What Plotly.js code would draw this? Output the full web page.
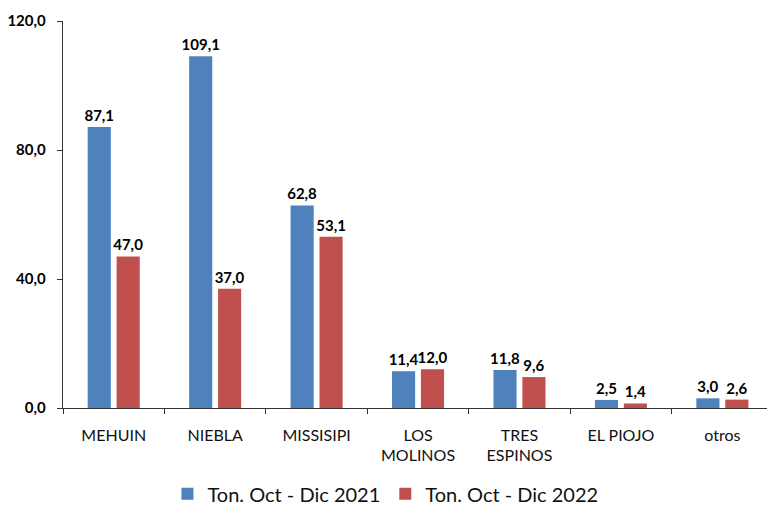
<!DOCTYPE html>
<html>
<head>
<meta charset="utf-8">
<script src="https://cdn.plot.ly/plotly-3.0.1.min.js"></script>
<style>html,body{margin:0;padding:0;background:#fff;}#chart{width:767px;height:506px;}</style>
</head>
<body>
<div id="chart"></div>
<script>
var categories = ["MEHUIN", "NIEBLA", "MISSISIPI", "LOS<br>MOLINOS", "TRES<br>ESPINOS", "EL PIOJO", "otros"];
var values2021 = [87.1, 109.1, 62.8, 11.4, 11.8, 2.5, 3.0];
var values2022 = [47.0, 37.0, 53.1, 12.0, 9.6, 1.4, 2.6];
var seriesNames = ["Ton. Oct - Dic 2021", "Ton. Oct - Dic 2022"];
var yTicks = [0, 40, 80, 120];

var font = "Lato, 'Liberation Sans', sans-serif";
function trace(vals, name, color) {
  return {
    type: "bar", x: categories, y: vals, name: name,
    marker: {color: color},
    texttemplate: "%{y:.1f}", textposition: "outside",
    textfont: {family: font, size: 15, color: "#000", weight: "bold"},
    constraintext: "none", cliponaxis: false,
    hoverinfo: "skip"
  };
}
var data = [
  trace(values2021, seriesNames[0], "#4F81BD"),
  trace(values2022, seriesNames[1], "#C0504D")
];
var layout = {
  width: 767, height: 506,
  margin: {l: 63, r: 0, t: 21, b: 98, autoexpand: false},
  paper_bgcolor: "#fff", plot_bgcolor: "#fff",
  separators: ",.",
  barmode: "group", bargap: 0.43, bargroupgap: 0.2,
  font: {family: font, color: "#000"},
  xaxis: {
    range: [-0.5, 6.44], showline: true, linecolor: "#333", linewidth: 1.3,
    ticks: "outside", tickson: "boundaries", ticklen: 5, tickcolor: "#333",
    ticklabelstandoff: 12, automargin: false,
    tickfont: {family: font, size: 16, color: "#111"}, showgrid: false, fixedrange: true
  },
  yaxis: {
    range: [0, 120], tickvals: yTicks, tickformat: ".1f",
    showline: true, linecolor: "#333", linewidth: 1.3,
    ticks: "outside", ticklen: 5, tickcolor: "#333", ticklabelstandoff: 8, automargin: false,
    tickfont: {family: font, size: 15, color: "#000", weight: "bold"},
    showgrid: false, zeroline: false, fixedrange: true
  },
  showlegend: true,
  legend: {orientation: "h", x: 0.458, xanchor: "center", y: 0.024, yref: "container", yanchor: "middle",
    font: {family: font, size: 20, color: "#111"}, itemwidth: 30, traceorder: "normal"}
};
Plotly.newPlot("chart", data, layout, {displayModeBar: false, staticPlot: true});
</script>
</body>
</html>
